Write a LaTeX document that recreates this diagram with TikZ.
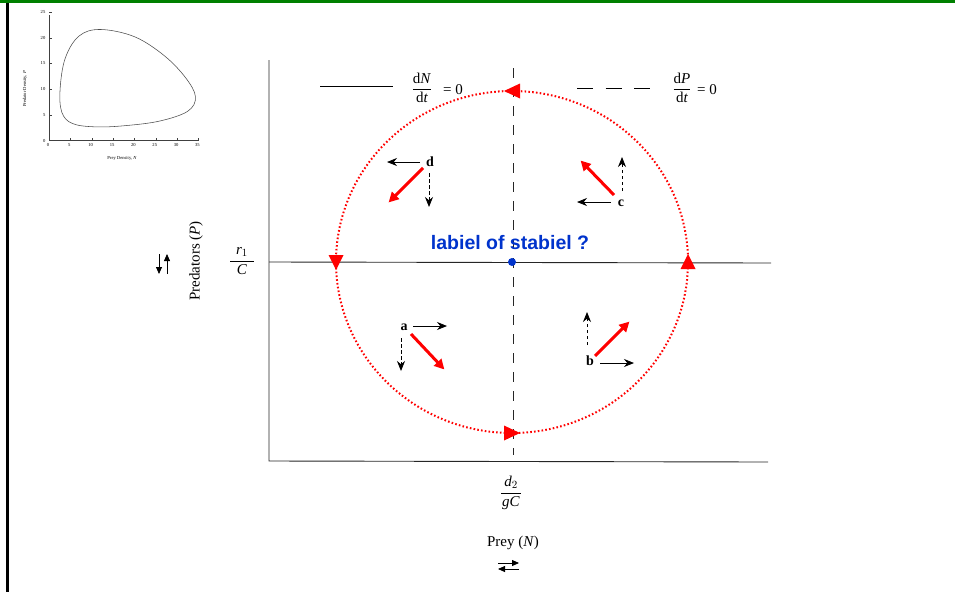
\documentclass[tikz,border=0pt]{standalone}
\usepackage{fontspec}
\setmainfont{Liberation Serif}
\newfontfamily\sansb{Liberation Sans}
\usetikzlibrary{arrows.meta}
\definecolor{frgreen}{RGB}{0,128,0}
\definecolor{lblblue}{RGB}{0,51,204}
\tikzset{
  blk/.style={line width=0.9pt,-{Stealth[length=10pt,width=8pt]}},
  blkdash/.style={blk,dash pattern=on 3.5pt off 2.5pt},
  redarr/.style={red,line width=3pt,-{Triangle[length=10pt,width=10pt]},shorten >=-2pt},
  qlab/.style={font=\fontsize{14}{15}\selectfont\bfseries,inner sep=0pt},
  txt/.style={font=\fontsize{15}{18}\selectfont,inner sep=0pt},
  frac/.style={font=\fontsize{15}{18}\selectfont,inner sep=0pt},
  tiny/.style={font=\fontsize{4.6}{5}\selectfont,inner sep=0pt},
  redtri/.style={fill=red,draw=none},
  small arr/.style={line width=0.8pt,-{Triangle[length=7pt,width=6pt]}},
}
\newcommand{\tx}[1]{\mbox{#1}}
\begin{document}
\begin{tikzpicture}[x=1pt,y=-1pt]
\useasboundingbox (0,0) rectangle (955,592);
% frame
\fill[frgreen] (0,0) rectangle (955,3);
\fill[black] (6,3) rectangle (9,592);

% ---------- inset plot ----------
\begin{scope}[line width=0.4pt,draw=black!75]
\draw (49,15) -- (49,140.5) -- (198,140.5);
\foreach \v/\lab in {0/0,5/5,10/10,15/15,20/20,25/25}{
  \draw (49,{140.5-5.14*\v}) -- (51.5,{140.5-5.14*\v});
  \node[tiny,anchor=east] at (45.5,{140.5-5.14*\v}) {\lab};
}
\foreach \v/\lab in {0/0,5/5,10/10,15/15,20/20,25/25,30/30,35/35}{
  \draw ({49+4.27*\v},140.5) -- ({49+4.27*\v},138);
  \node[tiny,anchor=north] at ({48+4.27*\v},143.5) {\lab};
}
\node[tiny,rotate=90] (ylab) at (25,89) {Predator Density, \textit{P}};
\node[tiny] (xlab) at (122,158) {Prey Density, \textit{N}};
\draw[line width=0.55pt,black!70] plot[smooth cycle,tension=0.6] coordinates {
 ({49+4.27*2.6},{140.5-5.14*10})
 ({49+4.27*3.8},{140.5-5.14*16})
 ({49+4.27*7},{140.5-5.14*20.3})
 ({49+4.27*12},{140.5-5.14*21.6})
 ({49+4.27*20},{140.5-5.14*20.2})
 ({49+4.27*27},{140.5-5.14*16.5})
 ({49+4.27*32},{140.5-5.14*12.2})
 ({49+4.27*34.3},{140.5-5.14*8.5})
 ({49+4.27*32.5},{140.5-5.14*5.7})
 ({49+4.27*26},{140.5-5.14*3.8})
 ({49+4.27*18},{140.5-5.14*2.9})
 ({49+4.27*11},{140.5-5.14*2.65})
 ({49+4.27*5.5},{140.5-5.14*3.3})
 ({49+4.27*3},{140.5-5.14*5.5})
};
\end{scope}

% ---------- main axes ----------
\coordinate (ytop) at (269,60);
\coordinate (origin) at (269,461);
\coordinate (xend) at (768,462);
\draw[line width=0.9pt,black!85] (ytop) -- (origin) -- (xend);
\coordinate (hl) at (269,262);
\coordinate (hr) at (771,263);
\draw[line width=0.9pt,black!85] (hl) -- (hr);
\coordinate (vt) at (513,68);
\coordinate (vb) at (513,455);
\draw[line width=0.9pt,black!85,dash pattern=on 10pt off 9pt] (vt) -- (vb);

% legend
\coordinate (l1a) at (320,86.5); \coordinate (l1b) at (393,86.5);
\draw[line width=0.8pt] (l1a) -- (l1b);
\node[frac] (fN) at (422,88) {$\displaystyle\frac{\tx{d\textit{N}}}{\tx{d\textit{t}}}$};
\node[txt,anchor=west] (eq1) at (443,90) {= 0};
\coordinate (l2a) at (577,88.5); \coordinate (l2b) at (650,88.5);
\draw[line width=0.8pt,dash pattern=on 16pt off 12.5pt] (l2a) -- (l2b);
\node[frac] (fP) at (682,88) {$\displaystyle\frac{\tx{d\textit{P}}}{\tx{d\textit{t}}}$};
\node[txt,anchor=west] (eq2) at (697,90) {= 0};

% ---------- red cycle ----------
\node[circle,fill=lblblue,inner sep=0pt,minimum size=8pt] (eq) at (512,262) {};
\draw[red,line width=2pt,dash pattern=on 1.6pt off 2.2pt] (eq) ellipse [x radius=176pt,y radius=171pt];
\fill[redtri] (504,91) -- (520,83.5) -- (520,98.5) -- cycle;
\fill[redtri] (520,433) -- (504,425.5) -- (504,440.5) -- cycle;
\fill[redtri] (336,270) -- (328.5,255) -- (343.5,255) -- cycle;
\fill[redtri] (688,254) -- (680.5,269) -- (695.5,269) -- cycle;
\node[font=\sansb\fontsize{19.5}{22}\selectfont\bfseries,text=lblblue,inner sep=0pt] (q) at (510,243) {labiel of stabiel ?};

% ---------- quadrant d ----------
\node[qlab] (d) at (430,162) {d};
\coordinate (d1) at (420,162); \coordinate (d1e) at (387,162);
\draw[blk] (d1) -- (d1e);
\coordinate (d2) at (429,173); \coordinate (d2e) at (429,207);
\draw[blkdash] (d2) -- (d2e);
\coordinate (d3) at (423,168); \coordinate (d3e) at (390,201);
\draw[redarr] (d3) -- (d3e);

% ---------- quadrant c ----------
\node[qlab] (c) at (621,203) {c};
\coordinate (c1) at (611,202); \coordinate (c1e) at (577,202);
\draw[blk] (c1) -- (c1e);
\coordinate (c2) at (622,191); \coordinate (c2e) at (622,157);
\draw[blkdash] (c2) -- (c2e);
\coordinate (c3) at (614,195); \coordinate (c3e) at (582,162);
\draw[redarr] (c3) -- (c3e);

% ---------- quadrant a ----------
\node[qlab] (a) at (404,327) {a};
\coordinate (a1) at (413,326); \coordinate (a1e) at (447,326);
\draw[blk] (a1) -- (a1e);
\coordinate (a2) at (401,338); \coordinate (a2e) at (401,371);
\draw[blkdash] (a2) -- (a2e);
\coordinate (a3) at (411,334); \coordinate (a3e) at (443,368);
\draw[redarr] (a3) -- (a3e);

% ---------- quadrant b ----------
\node[qlab] (b) at (590,361) {b};
\coordinate (b1) at (600,363); \coordinate (b1e) at (634,363);
\draw[blk] (b1) -- (b1e);
\coordinate (b2) at (587,345); \coordinate (b2e) at (587,312);
\draw[blkdash] (b2) -- (b2e);
\coordinate (b3) at (595,356); \coordinate (b3e) at (628,323);
\draw[redarr] (b3) -- (b3e);

% ---------- axis labels ----------
\node[txt,rotate=90] (ylabel) at (196,261) {Predators (\textit{P})};
\node[frac] (r1C) at (242,261) {$\displaystyle\frac{\hspace{6pt}\tx{\textit{r}}_1\hspace{6pt}}{\tx{\textit{C}}}$};
\coordinate (ua) at (167,274); \coordinate (ub) at (167,254);
\draw[small arr] (ua) -- (ub);
\coordinate (da) at (159,254); \coordinate (db) at (159,274);
\draw[small arr] (da) -- (db);

\node[frac] (d2gC) at (511,493) {$\displaystyle\frac{\hspace{3pt}\tx{\textit{d}}_2\hspace{3pt}}{\tx{\textit{gC}}}$};
\node[txt] (xlabel) at (513,543) {Prey (\textit{N})};
\coordinate (ra) at (498,563) ; \coordinate (rb) at (519,563);
\draw[small arr] (ra) -- (rb);
\coordinate (la) at (519,569); \coordinate (lb) at (498,569);
\draw[small arr] (la) -- (lb);
\end{tikzpicture}
\end{document}
